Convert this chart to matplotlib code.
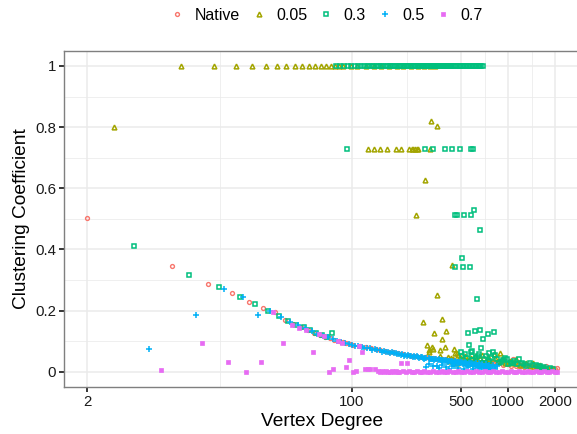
import matplotlib
matplotlib.use("Agg")
import matplotlib.pyplot as plt
from matplotlib.lines import Line2D
from matplotlib.ticker import NullFormatter

plt.rcParams['font.family'] = ['Liberation Sans', 'DejaVu Sans']

# (vertex degree, clustering coefficient)
native = [
    (2, 0.503), (7, 0.346), (12, 0.288), (17, 0.259), (22, 0.229), (27, 0.210),
    (32, 0.194), (37, 0.168), (42, 0.156), (47, 0.147), (52, 0.137), (57, 0.128),
    (62, 0.121), (67, 0.115), (72, 0.109), (77, 0.104), (82, 0.100), (87, 0.096),
    (92, 0.093), (97, 0.090), (102, 0.087), (112, 0.083), (122, 0.080), (132, 0.077),
    (142, 0.074), (152, 0.071), (162, 0.068), (172, 0.066), (182, 0.064), (197, 0.061),
    (212, 0.058), (227, 0.055), (242, 0.053), (257, 0.051), (272, 0.049), (292, 0.047),
    (312, 0.045), (332, 0.044), (352, 0.042), (377, 0.041), (402, 0.040), (427, 0.038),
    (452, 0.037), (477, 0.036), (502, 0.035), (532, 0.034), (562, 0.033), (597, 0.032),
    (632, 0.031), (672, 0.030), (712, 0.029), (757, 0.028), (802, 0.027), (852, 0.033),
    (902, 0.036), (942, 0.040), (1002, 0.026), (1077, 0.040), (1152, 0.023), (1232, 0.021),
    (1302, 0.024), (1402, 0.019), (1502, 0.017), (1602, 0.015), (1702, 0.013),
    (1802, 0.012), (1902, 0.013), (2002, 0.009),
    (512, 0.038), (522, 0.030), (547, 0.036), (577, 0.030), (612, 0.035), (652, 0.028),
    (692, 0.033), (737, 0.026), (782, 0.031), (827, 0.024), (877, 0.028), (927, 0.022),
    (967, 0.030), (1027, 0.035), (1052, 0.020), (1102, 0.030), (1127, 0.018),
    (1177, 0.026), (1202, 0.020), (1262, 0.017), (1352, 0.022), (1452, 0.015),
    (1552, 0.019), (1652, 0.012), (1752, 0.018), (1852, 0.010), (1952, 0.011),
    (2052, 0.012),
]

p005 = [
    (3, 0.800),
    (8, 1), (13, 1), (18, 1), (23, 1), (28, 1), (33, 1), (38, 1), (43, 1), (48, 1),
    (53, 1), (58, 1), (63, 1), (68, 1), (73, 1), (78, 1), (83, 1), (88, 1), (98, 1),
    (108, 1), (123, 1), (138, 1), (153, 1), (173, 1), (193, 1), (213, 1), (238, 1),
    (263, 1), (288, 1), (318, 1), (338, 1),
    (127, 0.729), (138, 0.729), (152, 0.729), (167, 0.729), (191, 0.729), (206, 0.729),
    (232, 0.729), (241, 0.729), (246, 0.729), (253, 0.729), (259, 0.729), (266, 0.729),
    (316, 0.729),
    (321, 0.821), (349, 0.804), (294, 0.627), (256, 0.514), (436, 0.349), (353, 0.251),
    (378, 0.171), (286, 0.163), (400, 0.133), (335, 0.126), (375, 0.108),
    (304, 0.087), (327, 0.081), (332, 0.075), (396, 0.081), (367, 0.071), (310, 0.070),
    (452, 0.073), (364, 0.051), (410, 0.049), (458, 0.062), (310, 0.064), (470, 0.062),
    (420, 0.035), (470, 0.030), (520, 0.042), (560, 0.038), (610, 0.050), (662, 0.046),
    (650, 0.030), (720, 0.035), (760, 0.040), (809, 0.057), (887, 0.062), (1000, 0.028),
    (1083, 0.030), (1156, 0.030), (1240, 0.024), (1440, 0.028), (1500, 0.018),
    (1700, 0.015),
    (430, 0.045), (445, 0.040), (480, 0.055), (495, 0.048), (505, 0.040), (530, 0.052),
    (545, 0.035), (575, 0.045), (590, 0.030), (625, 0.040), (680, 0.055), (700, 0.028),
    (740, 0.048), (780, 0.030), (830, 0.045), (860, 0.035), (920, 0.040), (960, 0.030),
    (1030, 0.035), (1120, 0.040), (1200, 0.022), (1300, 0.030), (1380, 0.020),
    (1600, 0.022), (1800, 0.012), (1900, 0.010),
]

p03 = [
    (4, 0.412), (9, 0.317), (14, 0.276), (19, 0.245), (24, 0.220), (29, 0.200),
    (34, 0.182), (39, 0.166), (44, 0.154), (49, 0.145), (54, 0.135), (59, 0.127),
    (64, 0.119), (69, 0.113), (74, 0.126),
    (79, 1), (84, 1), (89, 1), (94, 1), (99, 1), (104, 1), (109, 1), (114, 1), (119, 1),
    (124, 1), (129, 1), (134, 1), (139, 1), (144, 1), (149, 1), (154, 1), (159, 1),
    (164, 1), (169, 1), (174, 1), (179, 1), (184, 1), (189, 1), (194, 1), (199, 1),
    (204, 1), (209, 1), (214, 1), (219, 1), (224, 1), (229, 1), (234, 1), (239, 1),
    (244, 1), (249, 1), (254, 1), (259, 1), (264, 1), (269, 1), (274, 1), (279, 1),
    (284, 1), (289, 1), (294, 1), (299, 1), (304, 1), (309, 1), (314, 1), (319, 1),
    (324, 1), (329, 1), (334, 1), (339, 1), (344, 1), (349, 1), (354, 1), (359, 1),
    (364, 1), (369, 1), (374, 1), (379, 1), (384, 1), (389, 1), (394, 1), (399, 1),
    (404, 1), (409, 1), (414, 1), (419, 1), (424, 1), (429, 1), (434, 1), (444, 1),
    (454, 1), (464, 1), (479, 1), (489, 1), (499, 1), (514, 1), (524, 1), (539, 1),
    (549, 1), (564, 1), (574, 1), (589, 1), (599, 1), (614, 1), (624, 1), (639, 1),
    (649, 1), (664, 1), (674, 1), (689, 1),
    (93, 0.729), (292, 0.729), (330, 0.729), (396, 0.729), (435, 0.729), (489, 0.729),
    (575, 0.729), (596, 0.729),
    (608, 0.528), (458, 0.512), (474, 0.512), (522, 0.512), (582, 0.512), (661, 0.462),
    (504, 0.373), (460, 0.344), (514, 0.344), (570, 0.344), (630, 0.237),
    (555, 0.126), (618, 0.133), (657, 0.136), (695, 0.108), (742, 0.122), (818, 0.130),
    (562, 0.087), (500, 0.064), (575, 0.065), (590, 0.068), (670, 0.076), (650, 0.058),
    (750, 0.062), (800, 0.065),
    (540, 0.030), (620, 0.045), (700, 0.040), (760, 0.035), (850, 0.040), (900, 0.032),
    (950, 0.045), (1000, 0.025), (1083, 0.030), (1100, 0.035), (1228, 0.030),
    (1300, 0.020), (1375, 0.030), (1500, 0.022), (1600, 0.019), (1700, 0.015),
    (1850, 0.012),
    (510, 0.050), (530, 0.058), (545, 0.045), (585, 0.052), (600, 0.038), (640, 0.050),
    (680, 0.030), (720, 0.050), (780, 0.045), (820, 0.055), (880, 0.030), (930, 0.038),
    (980, 0.042), (1050, 0.028), (1150, 0.025), (1180, 0.040), (1270, 0.025),
    (1420, 0.022), (1550, 0.018), (1650, 0.012), (1750, 0.010), (1950, 0.008),
]

p05 = [
    (5, 0.073), (10, 0.184), (15, 0.270), (20, 0.243), (25, 0.187), (30, 0.199),
    (35, 0.178), (40, 0.163), (45, 0.152), (50, 0.142), (55, 0.133), (60, 0.124),
    (65, 0.118), (70, 0.112), (75, 0.106), (80, 0.101), (85, 0.097), (90, 0.094),
    (95, 0.091), (100, 0.088), (105, 0.085), (110, 0.083), (115, 0.081), (120, 0.079),
    (125, 0.076), (130, 0.076), (140, 0.073), (145, 0.070), (150, 0.070), (160, 0.067),
    (170, 0.066), (175, 0.062), (180, 0.063), (190, 0.061), (200, 0.059), (205, 0.055),
    (210, 0.057), (220, 0.055), (230, 0.054), (240, 0.052), (245, 0.049), (250, 0.051),
    (265, 0.049), (280, 0.047), (285, 0.044), (295, 0.046), (310, 0.044), (325, 0.043),
    (330, 0.040), (340, 0.042), (360, 0.040), (370, 0.037), (380, 0.039), (400, 0.037),
    (420, 0.036), (430, 0.033), (440, 0.035), (460, 0.034), (480, 0.033), (500, 0.032),
    (530, 0.031), (560, 0.030), (590, 0.029), (620, 0.028), (650, 0.027), (680, 0.026),
    (720, 0.025), (760, 0.023), (800, 0.022), (850, 0.020),
    (135, 0.072), (155, 0.066), (165, 0.064), (185, 0.060), (195, 0.058), (215, 0.053),
    (225, 0.052), (235, 0.050), (255, 0.048), (260, 0.050), (270, 0.046), (275, 0.048),
    (290, 0.043), (300, 0.045), (315, 0.041), (320, 0.043), (335, 0.039), (345, 0.040),
    (355, 0.038), (365, 0.039), (375, 0.035), (385, 0.036), (390, 0.038), (395, 0.034),
    (405, 0.035), (410, 0.033), (415, 0.036), (425, 0.034), (435, 0.031), (445, 0.033),
    (450, 0.030), (455, 0.032), (465, 0.030), (470, 0.033), (475, 0.028), (485, 0.031),
    (490, 0.027), (495, 0.030), (505, 0.028), (510, 0.031), (515, 0.026), (525, 0.028),
    (535, 0.025), (540, 0.029), (545, 0.023), (555, 0.026), (565, 0.022), (570, 0.027),
    (580, 0.024), (595, 0.020), (605, 0.025), (610, 0.018), (630, 0.022), (640, 0.016),
    (660, 0.020), (670, 0.014), (690, 0.018), (710, 0.015), (730, 0.012), (740, 0.020),
    (770, 0.016), (780, 0.010), (820, 0.014), (830, 0.008),
    (300, 0.016), (350, 0.020), (400, 0.015), (450, 0.020), (480, 0.012), (520, 0.010),
    (550, 0.015), (600, 0.010), (650, 0.012), (700, 0.008), (750, 0.010), (310, 0.025),
    (330, 0.018), (360, 0.012), (380, 0.022), (420, 0.010), (440, 0.018),
]

p07 = [
    (6, 0.005), (11, 0.093), (16, 0.032), (21, 0.000), (26, 0.032), (31, 0.194),
    (36, 0.095), (41, 0.154), (46, 0.144), (51, 0.135), (56, 0.064), (61, 0.123),
    (66, 0.116), (71, 0.000), (76, 0.008), (81, 0.100), (86, 0.093), (91, 0.017),
    (96, 0.038), (101, 0.000), (106, 0.002), (111, 0.084), (116, 0.066),
    (121, 0.010), (126, 0.010), (131, 0.010), (141, 0.010), (146, 0.003), (151, 0.000),
    (156, 0.003), (161, 0.000), (166, 0.002), (171, 0.000), (176, 0.000), (181, 0.003),
    (186, 0.000), (191, 0.002), (196, 0.000), (201, 0.000), (206, 0.028), (211, 0.003),
    (221, 0.000), (226, 0.028), (231, 0.002), (241, 0.000), (251, 0.000), (261, 0.003),
    (271, 0.000), (281, 0.000), (291, 0.002), (301, 0.000), (316, 0.000), (331, 0.002),
    (346, 0.000), (361, 0.000), (376, 0.002), (391, 0.000), (406, 0.000), (421, 0.001),
    (441, 0.000), (461, 0.000), (481, 0.001), (501, 0.000), (521, 0.000), (546, 0.001),
    (571, 0.000), (596, 0.000), (621, 0.001), (651, 0.000), (681, 0.000), (711, 0.001),
    (741, 0.000), (771, 0.000), (806, 0.001), (841, 0.000), (876, 0.000), (916, 0.001),
    (956, 0.000), (996, 0.000), (1041, 0.001), (1086, 0.000), (1131, 0.000),
    (1181, 0.001), (1231, 0.000), (1281, 0.000), (1336, 0.001), (1391, 0.000),
    (1451, 0.000), (1511, 0.001), (1571, 0.000), (1636, 0.000), (1701, 0.001),
    (1771, 0.000), (1841, 0.000), (1916, 0.001), (1991, 0.000), (2051, 0.000),
]

labels = ['Native', '0.05', '0.3', '0.5', '0.7']
colors = ['#F8766D', '#A3A500', '#00BF7D', '#00B0F6', '#E76BF3']
x_ticks = [2, 100, 500, 1000, 2000]
x_minor = [14.14, 223.6, 707.1, 1414.2]
y_ticks = [0, 0.2, 0.4, 0.6, 0.8, 1]
y_minor = [0.1, 0.3, 0.5, 0.7, 0.9]
y_tick_labels = ['0', '0.2', '0.4', '0.6', '0.8', '1']

# marker, size, filled, edge width
styles = [('o', 2.8, False, 1.0), ('^', 3.4, False, 1.1), ('s', 2.9, False, 1.1),
          ('+', 4.2, True, 1.1), ('s', 3.1, True, 0.5)]

fig = plt.figure(figsize=(5.77, 4.34), dpi=100)
ax = fig.add_axes([63.7 / 577, 1 - 387 / 434, (580 - 63.7) / 577, (387 - 50.7) / 434])

handles = []
for data, lab, col, (mk, ms, filled, mew) in zip([native, p005, p03, p05, p07],
                                                  labels, colors, styles):
    deg, cc = zip(*data)
    kw = dict(ls='none', marker=mk, ms=ms, mew=mew, color=col,
              mfc=col if filled else 'none', mec=col)
    ax.plot(deg, cc, **kw)
    handles.append(Line2D([], [], **kw))

ax.set_xscale('log')
ax.set_xlim(1.418, 2893)
ax.set_ylim(-0.05, 1.05)

ax.set_xticks(x_ticks, labels=[str(t) for t in x_ticks])
ax.set_xticks(x_minor, minor=True)
ax.xaxis.set_minor_formatter(NullFormatter())
ax.set_yticks(y_ticks, labels=y_tick_labels)
ax.set_yticks(y_minor, minor=True)

ax.set_axisbelow(True)
ax.grid(which='major', color='#EBEBEB', lw=1.1)
ax.grid(which='minor', color='#EBEBEB', lw=0.55)

for s in ax.spines.values():
    s.set_color('#7F7F7F')
    s.set_linewidth(1.0)

ax.tick_params(which='major', direction='out', length=3.5, width=1.1,
               color='black', labelsize=10.8, labelcolor='#1A1A1A', pad=2)
ax.tick_params(which='minor', length=0)

ax.set_xlabel('Vertex Degree', fontsize=13.8, labelpad=3)
ax.set_ylabel('Clustering Coefficient', fontsize=13.8, labelpad=4)

fig.legend(handles, labels, loc='center', bbox_to_anchor=(0.565, 0.965), ncol=5,
           frameon=False, fontsize=11.5, handlelength=1.0, handletextpad=0.6,
           columnspacing=0.67, borderaxespad=0)

fig.savefig('out.png', dpi=100)
